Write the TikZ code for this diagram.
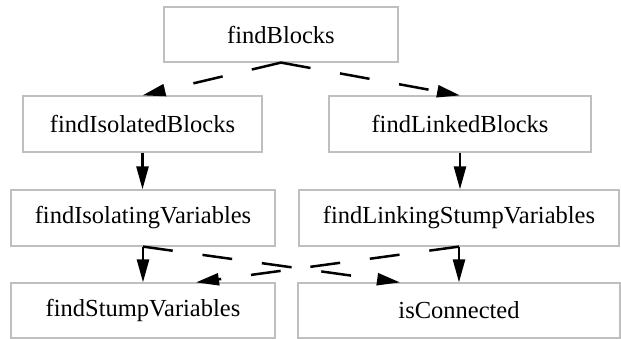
\documentclass[tikz,border=0pt]{standalone}
\usepackage{fontspec}
\setmainfont{Liberation Serif}
\usetikzlibrary{arrows.meta}
\begin{document}
\begin{tikzpicture}[x=1pt,y=-1pt,
  box/.style={draw=black!25,line width=1.2pt,rectangle,inner sep=0pt,
    font=\fontsize{24.5}{27}\selectfont},
  edge/.style={line width=2.5pt,-{Triangle[length=23pt,width=12pt]}},
  dashededge/.style={edge,dash pattern=on 30pt off 30pt}]
\useasboundingbox (0,0) rectangle (621,339);
\node[box,minimum width=234pt,minimum height=55pt] (fB) at (281,34.5) {findBlocks};
\node[box,minimum width=239pt,minimum height=56pt] (fIB) at (142.5,124) {findIsolatedBlocks};
\node[box,minimum width=262pt,minimum height=56pt] (fLB) at (460,124) {findLinkedBlocks};
\node[box,minimum width=264pt,minimum height=56pt] (fIV) at (143,218) {findIsolatingVariables};
\node[box,minimum width=320pt,minimum height=56pt] (fLSV) at (459,218) {findLinkingStumpVariables};
\node[box,minimum width=264pt,minimum height=55pt] (fSV) at (143,310.5) {findStumpVariables};
\node[box,minimum width=322pt,minimum height=55pt] (iC) at (459,310.5) {isConnected};

\draw[dashededge] (fB.south) -- (fIB.north);
\draw[dashededge] (fB.south) -- (fLB.north);
\draw[edge] (fIB.south) -- (fIB.south |- fIV.north);
\draw[edge] (fLB.south) -- (fLB.south |- fLSV.north);
\draw[edge] (fIV.south) -- (fIV.south |- fSV.north);
\draw[edge] (fLSV.south) -- (fLSV.south |- iC.north);
\draw[dashededge] (fIV.south) -- ([xshift=-59pt]iC.north);
\draw[dashededge] (fLSV.south) -- ([xshift=53pt]fSV.north);
\end{tikzpicture}
\end{document}
